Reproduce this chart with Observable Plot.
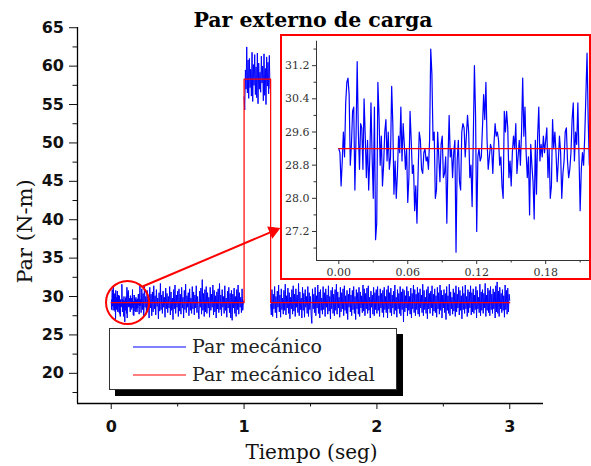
<!DOCTYPE html>
<html><head><meta charset="utf-8">
<script src="https://cdn.jsdelivr.net/npm/d3@7"></script>
<script src="https://cdn.jsdelivr.net/npm/@observablehq/plot@0.6"></script>
<style>
html,body{margin:0;padding:0;background:#fff;}
#wrap{position:relative;width:591px;height:466px;overflow:hidden;background:#fff;}
#main{position:absolute;left:0;top:0;}
#inset{position:absolute;left:280px;top:34px;}
#legend{position:absolute;left:109px;top:328px;width:286px;height:60px;border:1px solid #333;background:#fff;box-shadow:6px 6px 0 0 #000;}
</style></head><body>
<div id="wrap"><div id="main"></div><div id="inset"></div><div id="legend"></div></div>
<script>
// ---------- DATA ----------
const titleText = "Par externo de carga";
const xLabel = "Tiempo (seg)";
const yLabel = "Par (N-m)";
const seriesNames = ["Par mecánico", "Par mecánico ideal"];
const seriesColors = ["#0000ff", "#ff0000"];

// fine samples (inset window), t = 0, 0.001, 0.002 ... 0.219
const zoomStart = 0, zoomStep = 0.001;
const zoomTorque = [
29.2,29.1,28.3,28.9,29.6,29.0,30.3,30.8,30.9,30.5,28.8,29.3,30.1,30.2,28.2,29.5,31.3,29.6,28.7,29.8,
29.7,28.7,30.4,29.5,28.5,29.4,28.2,29.0,30.3,29.0,28.0,30.2,27.0,27.4,30.8,30.0,28.8,29.5,28.3,28.8,
29.6,29.9,28.9,29.6,28.7,29.0,30.7,29.8,28.1,28.9,28.0,28.6,29.5,29.1,30.2,28.9,29.8,29.3,28.7,29.2,
27.9,28.5,30.1,29.4,28.6,28.8,27.7,28.3,27.4,28.6,29.6,29.4,28.7,28.6,29.1,29.2,28.9,29.0,28.7,29.4,
31.6,31.0,29.4,29.6,28.0,28.2,29.6,29.0,28.4,29.3,29.5,28.5,28.6,29.0,27.4,28.9,30.0,29.0,29.2,28.5,
29.1,29.4,26.7,28.9,29.4,28.4,28.2,29.6,29.8,29.7,29.0,29.5,30.0,29.6,28.5,28.8,27.8,29.4,31.2,30.0,
27.2,29.0,29.2,28.9,29.0,29.7,30.5,29.9,30.8,29.4,28.7,29.0,29.3,29.2,28.6,29.3,29.8,29.5,29.6,29.4,
28.8,29.0,28.3,28.0,30.1,29.6,30.1,29.7,28.5,28.9,28.3,29.1,29.5,29.2,29.8,28.6,29.0,29.4,28.8,29.6,
30.9,29.5,30.2,29.1,28.5,29.0,27.6,29.3,28.8,28.4,27.5,29.4,28.1,29.5,30.2,28.9,29.3,29.0,29.5,29.1,
29.4,29.7,28.5,29.2,28.0,28.3,29.9,29.2,29.6,29.1,28.4,28.9,29.5,29.1,28.0,28.6,28.9,29.6,29.7,28.9,
28.5,28.7,29.1,29.9,30.3,28.9,29.6,29.3,30.3,29.0,27.7,28.7,29.1,28.8,29.5,30.5,31.5,29.9,28.8,29.0
];
// first low-load stretch, t = 0.220, 0.225 ... 0.995
const lowAStart = 0.22, lowAStep = 0.005;
const lowTorqueA = [
29.6,27.9,31.0,28.3,30.4,27.4,31.5,28.6,30.0,27.7,30.8,28.2,29.9,27.2,31.2,28.5,30.3,27.5,30.6,28.0,
31.4,28.4,30.1,27.6,30.9,28.7,29.8,27.1,30.5,28.1,31.7,28.3,30.2,27.8,30.7,28.6,29.9,27.3,31.1,28.4,
30.4,27.9,30.0,28.5,31.3,27.6,30.6,28.2,29.8,27.0,30.9,28.4,31.5,27.8,30.2,28.6,30.7,27.4,31.0,28.1,
30.3,27.7,31.2,28.5,29.9,27.2,30.8,28.3,31.6,27.9,30.1,28.6,30.5,27.5,31.0,28.2,29.8,27.8,31.3,28.4,
30.6,27.6,30.2,28.5,31.4,27.9,30.0,28.3,27.1,30.7,28.6,31.1,27.7,32.2,28.2,30.4,27.4,30.9,28.0,31.3,
27.8,30.5,28.5,29.9,27.3,31.2,28.2,30.3,28.6,31.5,27.6,30.8,28.0,30.1,27.2,30.6,28.4,31.0,27.9,31.7,
28.3,30.2,27.5,30.9,28.6,30.0,27.8,31.4,28.2,29.8,27.3,30.7,28.5,31.2,27.9,30.4,27.2,30.8,26.9,30.3,
28.5,31.1,27.8,30.0,27.4,30.9,28.3,31.5,27.7,30.5,28.6,29.9,27.9,31.0,28.2,29.4
];
// high-load stretch, t = 1.000 ... 1.195
const highStart = 1.0, highStep = 0.005;
const highTorque = [
56.0,54.3,59.5,57.0,62.5,56.5,60.8,55.8,61.0,57.2,
59.6,56.1,61.8,55.4,60.2,57.5,61.5,56.3,59.9,55.9,
61.7,55.1,60.4,57.0,59.2,56.6,61.3,57.8,60.0,55.5,
61.6,56.2,59.7,55.0,61.2,57.4,60.5,56.4,61.4,57.1
];
// second low-load stretch, t = 1.200, 1.205 ... 3.000
const lowBStart = 1.2, lowBStep = 0.005;
const lowTorqueB = [
29.0,27.6,30.9,27.4,30.3,28.4,31.3,27.9,30.0,27.2,30.7,28.6,31.5,28.0,30.2,27.3,31.0,28.3,29.8,27.7,
30.8,28.2,31.6,27.6,30.1,28.5,31.1,27.8,30.5,27.1,29.9,28.4,30.9,27.7,31.4,28.1,30.3,27.4,31.0,28.6,
30.2,27.9,31.7,27.5,30.6,28.3,29.8,27.2,31.2,28.2,30.4,27.3,30.9,28.6,30.0,27.8,31.3,27.4,30.5,28.3,
30.0,27.6,26.5,31.0,28.4,30.3,27.9,31.2,27.5,30.1,28.5,31.5,27.8,30.6,27.2,30.9,28.2,29.8,27.7,31.3,
28.3,30.5,27.4,31.0,28.6,30.2,27.7,31.4,28.1,30.0,27.1,30.8,28.4,31.2,27.8,30.3,27.5,30.9,28.2,31.6,
27.7,30.6,28.5,29.9,27.3,31.2,28.0,30.5,28.4,31.0,27.5,31.4,28.2,30.1,27.8,30.8,27.0,30.3,28.6,31.1,
28.0,30.2,27.5,30.8,28.3,31.3,27.8,30.0,27.0,30.9,28.4,30.5,27.7,31.2,27.4,30.6,28.5,30.1,27.9,31.5,
28.1,31.0,27.5,30.4,28.4,31.1,27.8,31.4,28.2,29.9,27.2,30.7,28.6,30.2,27.7,31.2,27.5,30.5,28.3,30.9,
27.8,31.3,28.2,30.1,27.4,31.0,28.5,30.4,27.9,30.8,27.3,31.2,28.3,30.0,27.9,30.9,27.2,31.4,28.4,30.5,
27.9,31.1,27.5,30.2,28.5,30.7,27.7,31.5,28.2,29.9,27.3,30.9,28.4,30.4,27.8,31.3,27.5,30.6,28.3,31.0,
26.7,30.8,28.0,30.1,28.5,31.3,27.5,30.7,28.2,30.0,27.7,31.1,27.2,30.4,28.4,31.5,27.9,30.9,27.5,30.3,
28.3,31.2,27.7,30.5,27.4,31.0,28.5,30.2,27.9,31.6,27.5,30.8,28.3,29.9,27.8,30.9,27.1,31.3,28.4,30.4,
27.8,30.7,28.5,31.4,27.5,30.3,28.1,31.0,27.9,30.1,27.3,31.2,28.4,30.5,27.7,31.5,28.2,30.8,27.2,30.2,
28.5,30.9,27.9,30.4,27.0,31.3,28.2,30.1,27.8,31.6,27.5,30.6,28.4,29.9,27.7,31.0,28.1,30.5,27.4,31.4,
28.0,30.3,28.5,31.2,27.6,30.8,28.2,30.1,27.1,31.3,28.3,30.4,27.8,31.5,28.4,30.0,27.4,30.9,27.9,30.6,
28.5,31.4,27.6,30.5,28.0,31.0,27.8,30.2,28.3,31.3,27.2,30.8,28.4,29.9,27.9,31.6,27.5,30.6,28.2,30.9,
27.8,30.4,28.5,31.7,27.4,30.2,28.2,31.1,27.9,30.8,27.5,31.3,28.3,30.3,27.8,31.0,28.4,30.6,27.2,31.4,
28.0,31.9,27.8,30.7,27.4,31.2,28.4,30.4,27.9,30.9,28.2,30.1,27.3,31.5,28.3,30.8,27.7,31.1,28.0,30.3,
29.5
];
// ideal load torque (step)
const idealTime = [0, 1, 1, 1.2, 1.2, 3];
const idealTorque = [29.2, 29.2, 58.3, 58.3, 29.2, 29.2];

// annotation (data units): circle around the zoomed window, arrow to inset
const circleT = [0.1226], circleV = [29.22];
const arrowT = [0.2355, 1.2197], arrowV = [31.3, 38.52];

// axes
const xDomain = [-0.254, 3.254], yDomain = [16.07, 65.03];
const xMajor = [0, 1, 2, 3], xMinor = [0.5, 1.5, 2.5];
const yMajor = [20, 25, 30, 35, 40, 45, 50, 55, 60, 65];
const yMinor = [17.5, 22.5, 27.5, 32.5, 37.5, 42.5, 47.5, 52.5, 57.5, 62.5];
const xDomainI = [-0.0194, 0.219], yDomainI = [26.5, 31.79];
const xMajorI = [0, 0.06, 0.12, 0.18], xMinorI = [0.03, 0.09, 0.15, 0.21];
const yMajorI = [27.2, 28.0, 28.8, 29.6, 30.4, 31.2];
const yMinorI = [26.8, 27.6, 28.4, 29.2, 30.0, 30.8, 31.6];

// ---------- BUILD ----------
function toRows(vals, start, step, seg) {
  return vals.map((v, i) => ({t: +(start + i * step).toFixed(4), v, seg}));
}
const zoomRows = toRows(zoomTorque, zoomStart, zoomStep, 0);
const rows = [
  ...zoomRows,
  ...toRows(lowTorqueA, lowAStart, lowAStep, 0),
  ...toRows(highTorque, highStart, highStep, 1),
  ...toRows(lowTorqueB, lowBStart, lowBStep, 2)
];
const idealRows = idealTime.map((t, i) => ({t, v: idealTorque[i]}));

const serif = "DejaVu Serif";
const main = Plot.plot({
  width: 591, height: 466,
  marginLeft: 77, marginRight: 48, marginTop: 27, marginBottom: 63,
  x: {domain: xDomain},
  y: {domain: yDomain},
  style: {background: "white"},
  marks: [
    Plot.line(rows, {x: "t", y: "v", z: "seg", stroke: seriesColors[0], strokeWidth: 1}),
    Plot.line(idealRows, {x: "t", y: "v", stroke: seriesColors[1], strokeWidth: 1.2}),
    Plot.dot(circleT.map((t, i) => ({t, v: circleV[i]})), {x: "t", y: "v", r: 21.5, stroke: "#ff0000", strokeWidth: 2, fill: "none"}),
    Plot.link([{t1: arrowT[0], v1: arrowV[0], t2: arrowT[1], v2: arrowV[1]}], {x1: "t1", y1: "v1", x2: "t2", y2: "v2", stroke: "#ff0000", strokeWidth: 2}),
    Plot.dot([{t: arrowT[1], v: arrowV[1]}], {x: "t", y: "v", symbol: "triangle", r: 4.3, fill: "#ff0000", stroke: "#ff0000", strokeWidth: 1, rotate: 67.1}),
    Plot.ruleX([xDomain[0]], {stroke: "#000", strokeWidth: 1.3}),
    Plot.ruleY([yDomain[0]], {stroke: "#000", strokeWidth: 1.3}),
    Plot.axisY({ticks: yMajor, tickSize: 8, tickPadding: 5.5, label: null, fontFamily: "DejaVu Sans", fontWeight: "bold", fontSize: 16, color: "#111"}),
    Plot.axisY({ticks: yMinor, tickSize: 4.5, tickFormat: () => "", label: null, color: "#111"}),
    Plot.axisX({ticks: xMajor, tickSize: 6, tickPadding: 11, tickFormat: d3.format("d"), label: null, fontFamily: "DejaVu Sans", fontWeight: "bold", fontSize: 16, color: "#111"}),
    Plot.axisX({ticks: xMinor, tickSize: 3.5, tickFormat: () => "", label: null, color: "#111"}),
    Plot.text([titleText], {text: d => d, frameAnchor: "top", textAnchor: "middle", dx: 2.5, dy: -1, lineAnchor: "bottom", fontFamily: serif, fontWeight: "bold", fontSize: 20.5, fill: "#000"}),
    Plot.text([xLabel], {text: d => d, frameAnchor: "bottom", textAnchor: "middle", dx: 1, dy: 55, lineAnchor: "bottom", fontFamily: serif, fontSize: 20, fill: "#111"}),
    Plot.text([yLabel], {text: d => d, frameAnchor: "left", textAnchor: "middle", dx: -46, dy: 16, rotate: -90, lineAnchor: "bottom", fontFamily: serif, fontSize: 21, fill: "#111"})
  ]
});
document.getElementById("main").appendChild(main);

const inset = Plot.plot({
  width: 311, height: 246,
  marginLeft: 36, marginRight: 1, marginTop: 6.7, marginBottom: 20,
  x: {domain: xDomainI},
  y: {domain: yDomainI},
  style: {background: "white"},
  marks: [
    Plot.line(zoomRows, {x: "t", y: "v", stroke: seriesColors[0], strokeWidth: 1.2}),
    Plot.line(idealRows, {x: "t", y: "v", stroke: seriesColors[1], strokeWidth: 1.2, clip: true}),
    Plot.ruleX([xDomainI[0]], {stroke: "#333", strokeWidth: 1}),
    Plot.ruleY([yDomainI[0]], {stroke: "#333", strokeWidth: 1}),
    Plot.axisY({ticks: yMajorI, tickSize: 4, tickPadding: 3, tickFormat: d3.format(".1f"), label: null, fontFamily: serif, fontSize: 11, color: "#333"}),
    Plot.axisY({ticks: yMinorI, tickSize: 2.5, tickFormat: () => "", label: null, color: "#333"}),
    Plot.axisX({ticks: xMajorI, tickSize: 4, tickPadding: 4, tickFormat: d3.format(".2f"), label: null, fontFamily: serif, fontSize: 11, color: "#333"}),
    Plot.axisX({ticks: xMinorI, tickSize: 2.5, tickFormat: () => "", label: null, color: "#333"})
  ]
});
d3.select(inset).append("rect")
  .attr("x", 1).attr("y", 1).attr("width", 309).attr("height", 244)
  .attr("fill", "none").attr("stroke", "#ff0000").attr("stroke-width", 2);
document.getElementById("inset").appendChild(inset);

// legend
const lg = d3.select("#legend").append("svg").attr("width", 286).attr("height", 60);
seriesNames.forEach((name, i) => {
  const y = 18 + i * 28;
  lg.append("line").attr("x1", 23).attr("x2", 76).attr("y1", y).attr("y2", y)
    .attr("stroke", seriesColors[i]).attr("stroke-width", 1.2);
  lg.append("text").attr("x", 82).attr("y", y + 6).text(name)
    .attr("font-family", serif).attr("font-size", 19).attr("fill", "#222");
});
</script></body></html>
